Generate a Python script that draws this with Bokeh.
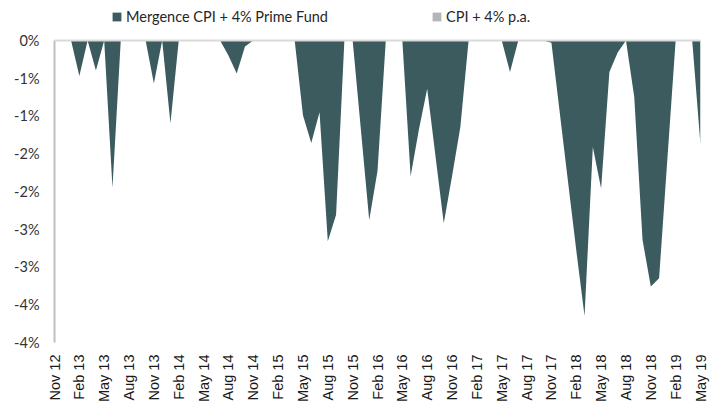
import math
from bokeh.plotting import figure
from bokeh.models import (Range1d, FixedTicker, Span, Legend, LegendItem)
from bokeh.embed import file_html
from bokeh.resources import INLINE

# monthly drawdown (%), Nov 12 .. May 19 (79 months)
fund_drawdown = [
    0.00, 0.00, 0.00, -0.47, 0.00, -0.40, 0.00, -1.95, 0.00, 0.00,   # Nov12-Aug13
    0.00, 0.00, -0.57, 0.00, -1.10, 0.00, 0.00, 0.00, 0.00, 0.00,    # Sep13-Jun14
    0.00, -0.20, -0.44, -0.08, 0.00, 0.00, 0.00, 0.00, 0.00, 0.00,   # Jul14-Apr15
    -0.99, -1.36, -0.95, -2.66, -2.31, 0.00, 0.00, -1.19, -2.38, -1.73,  # May15-Feb16
    0.00, 0.00, 0.00, -1.80, -1.18, -0.64, -1.53, -2.42, -1.80, -1.15,   # Mar16-Dec16
    0.00, 0.00, 0.00, 0.00, 0.00, -0.42, 0.00, 0.00, 0.00, 0.00,     # Jan17-Oct17
    -0.03, -0.95, -1.87, -2.78, -3.65, -1.41, -1.96, -0.42, -0.16, 0.00,  # Nov17-Aug18
    -0.75, -2.64, -3.26, -3.15, -1.57, 0.00, 0.00, 0.00, -1.39,      # Sep18-May19
]
cpi_drawdown = [0.0] * len(fund_drawdown)
month_index = list(range(len(fund_drawdown)))

tick_labels = ["Nov 12", "Feb 13", "May 13", "Aug 13", "Nov 13", "Feb 14", "May 14",
               "Aug 14", "Nov 14", "Feb 15", "May 15", "Aug 15", "Nov 15", "Feb 16",
               "May 16", "Aug 16", "Nov 16", "Feb 17", "May 17", "Aug 17", "Nov 17",
               "Feb 18", "May 18", "Aug 18", "Nov 18", "Feb 19", "May 19"]
tick_positions = [i * 3 for i in range(len(tick_labels))]

y_ticks = [0, -0.5, -1, -1.5, -2, -2.5, -3, -3.5, -4]
y_tick_labels = ["0%", "-1%", "-1%", "-2%", "-2%", "-3%", "-3%", "-4%", "-4%"]
y_min, y_max = -4, 0

series_names = ["Mergence CPI + 4% Prime Fund", "CPI + 4% p.a."]
fund_color = "#3b5b5e"
cpi_color = "#b3b5b7"

# the frame extends above 0 to leave room for the legend inside it
legend_headroom = 0.475

p = figure(width=721, height=405, output_backend="svg", toolbar_location=None,
           x_range=Range1d(0, len(fund_drawdown) - 1),
           y_range=Range1d(y_min, y_max + legend_headroom),
           min_border_left=54, min_border_right=21, min_border_top=4,
           min_border_bottom=62)
p.outline_line_color = None
p.xgrid.visible = False
p.ygrid.visible = False
p.background_fill_color = "white"

r_fund = p.varea(x=month_index, y1=0, y2=fund_drawdown, fill_color=fund_color)
r_cpi = p.varea(x=month_index, y1=0, y2=cpi_drawdown, fill_color=cpi_color)

p.add_layout(Span(location=0, dimension="width", line_color="#d9d9d9", line_width=2))

# x axis
xa = p.xaxis[0]
xa.ticker = FixedTicker(ticks=tick_positions)
xa.major_label_overrides = {pos: lab for pos, lab in zip(tick_positions, tick_labels)}
xa.major_label_orientation = math.pi / 2
xa.axis_line_color = None
xa.major_tick_line_color = None
xa.major_tick_out = 0
xa.major_tick_in = 0
xa.minor_tick_line_color = None
xa.minor_tick_out = 0
xa.major_label_standoff = 12
xa.major_label_text_font = "Liberation Sans"
xa.major_label_text_font_size = "14.5px"
xa.major_label_text_color = "#1a1a1a"

# y axis
ya = p.yaxis[0]
ya.ticker = FixedTicker(ticks=y_ticks)
ya.bounds = (y_min, y_max)
ya.major_label_overrides = {t: lab for t, lab in zip(y_ticks, y_tick_labels)}
ya.axis_line_color = "#bfbfbf"
ya.axis_line_width = 2
ya.major_tick_line_color = None
ya.major_tick_out = 0
ya.major_tick_in = 0
ya.minor_tick_line_color = None
ya.minor_tick_out = 0
ya.major_label_standoff = 15
ya.major_label_text_font = "Lato"
ya.major_label_text_font_size = "14.5px"
ya.major_label_text_color = "#333333"

def make_legend(item_label, renderer, loc):
    return Legend(items=[LegendItem(label=item_label, renderers=[renderer])],
                  location=loc, orientation="horizontal",
                  padding=0, margin=0, spacing=0,
                  glyph_width=11, glyph_height=11,
                  label_standoff=4, border_line_color=None,
                  background_fill_alpha=0,
                  label_text_font="Lato", label_text_font_size="14.5px",
                  label_text_color="#262626")

p.add_layout(make_legend(series_names[0], r_fund, (57, 317)), "center")
p.add_layout(make_legend(series_names[1], r_cpi, (377, 317)), "center")

open("out.html", "w").write(file_html(p, INLINE))
